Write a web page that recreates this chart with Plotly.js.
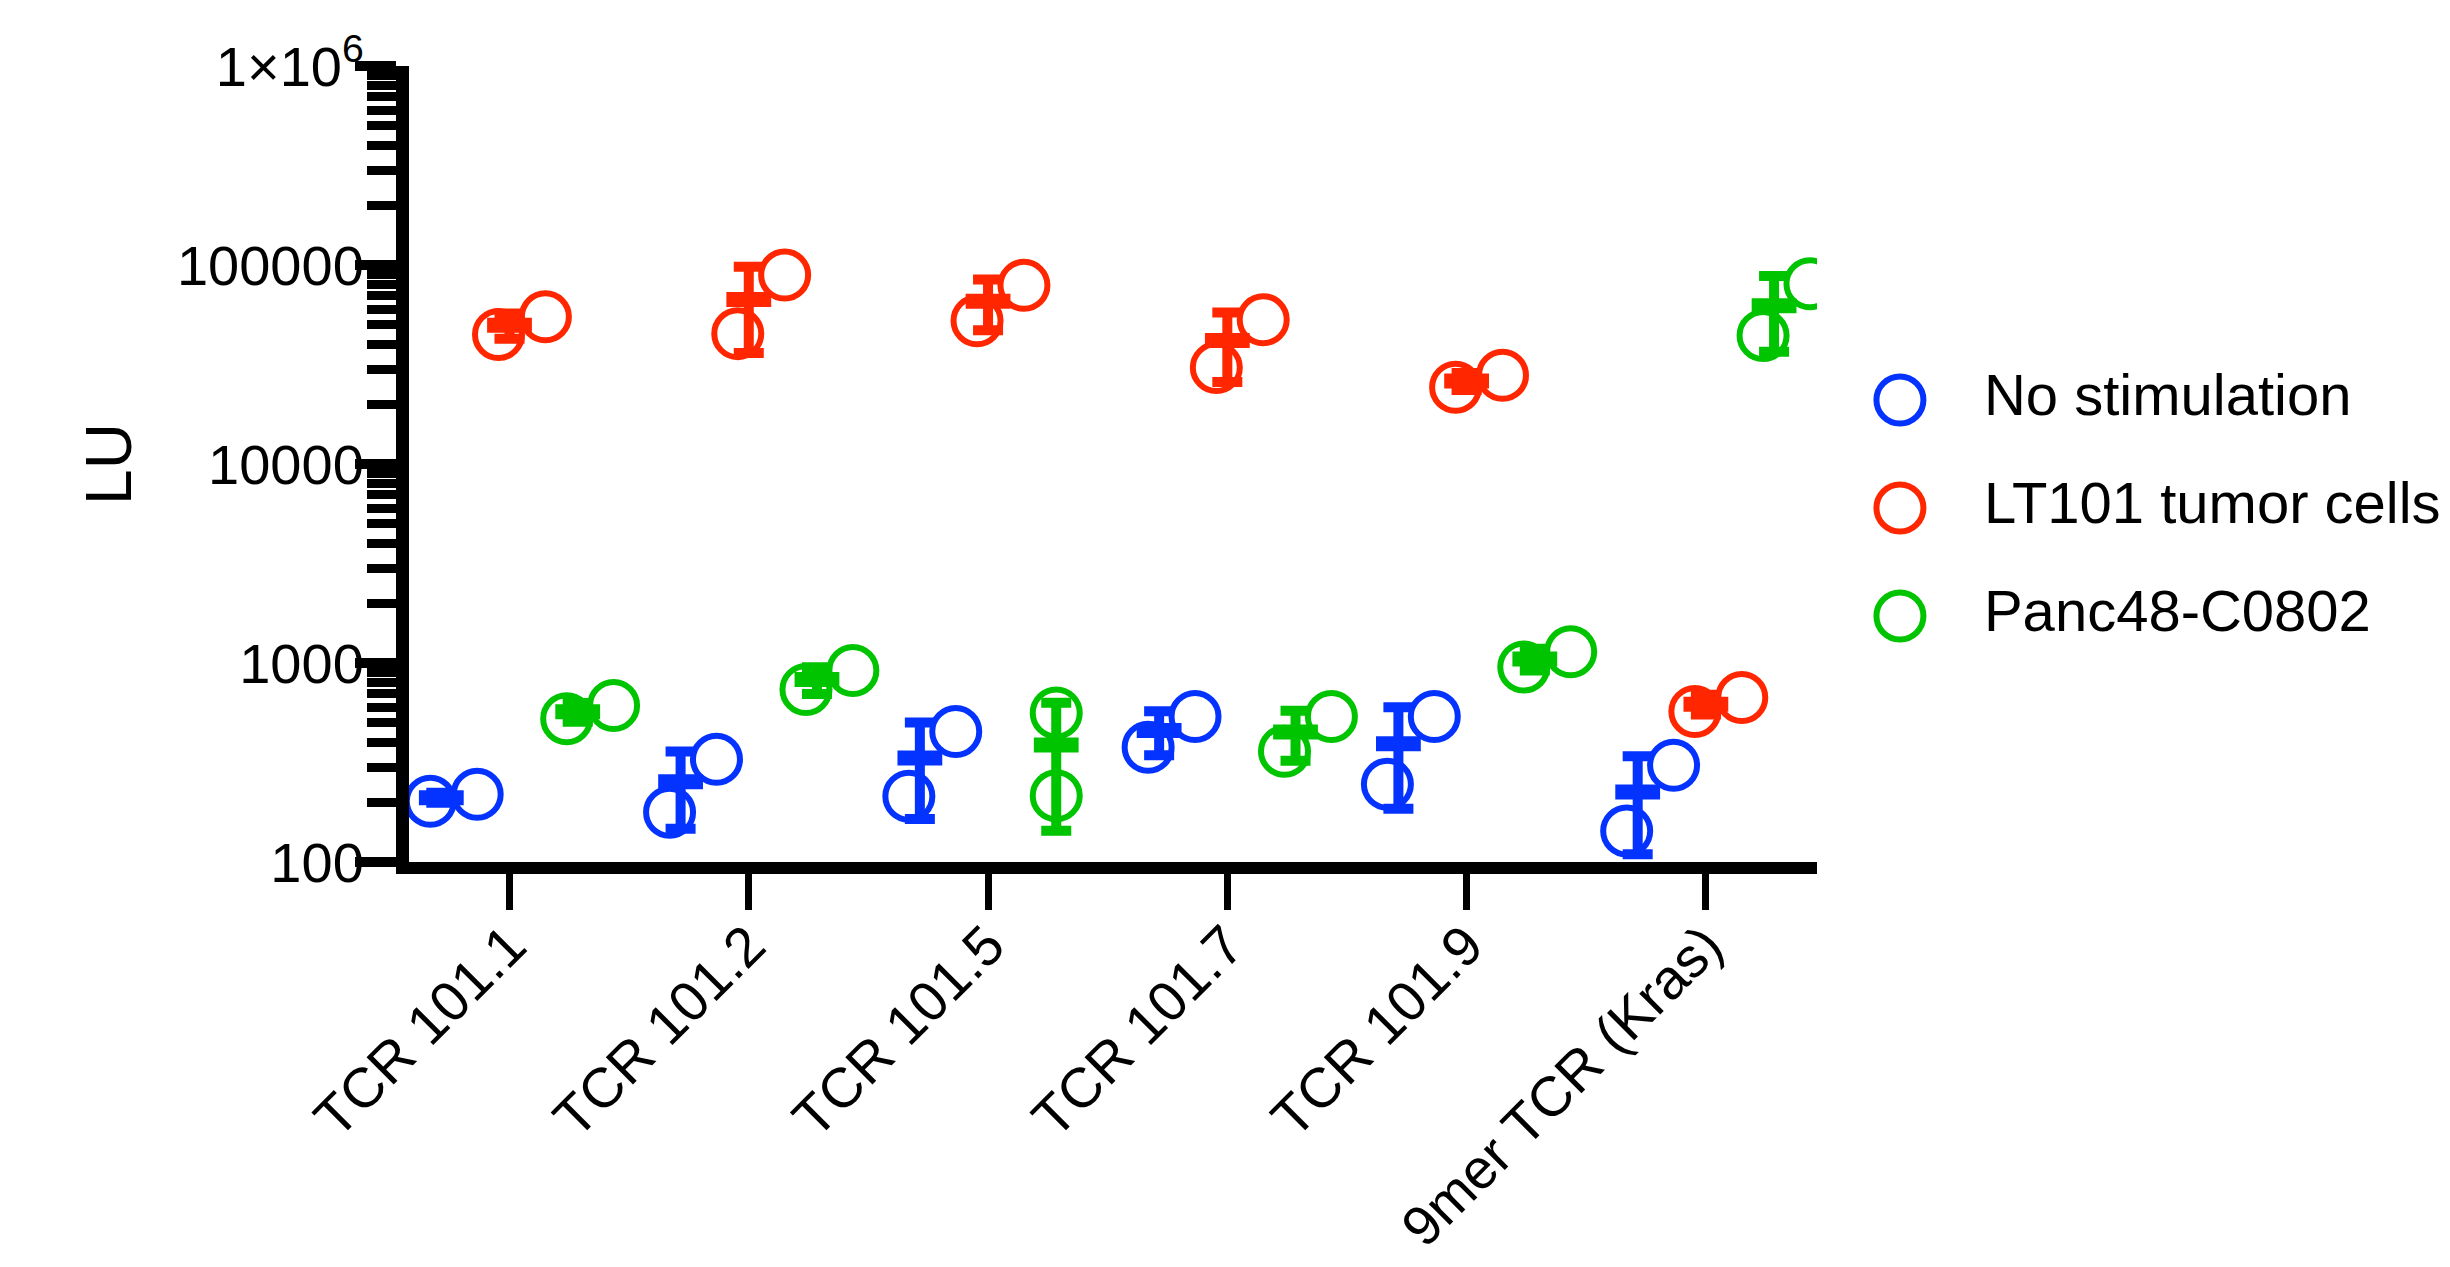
<!DOCTYPE html>
<html><head><meta charset="utf-8">
<script src="https://cdn.plot.ly/plotly-3.0.1.min.js"></script>
<style>html,body{margin:0;padding:0;background:#fff}#chart{width:2450px;height:1267px}</style>
</head><body><div id="chart"></div>
<script>
// ---- data ----
const categories = ['TCR 101.1','TCR 101.2','TCR 101.5','TCR 101.7','TCR 101.9','9mer TCR (Kras)'];
const seriesNames = ['No stimulation','LT101 tumor cells','Panc48-C0802'];
const noStimRep1 = [202, 178, 214, 377, 246, 143];
const noStimRep2 = [219, 328, 453, 539, 539, 306];
const lt101Rep1  = [44700, 45200, 52500, 30500, 24300, 571];
const lt101Rep2  = [55000, 89000, 79000, 53100, 27900, 671];
const panc48Rep1 = [525, 736, 215, 360, 955, 44200];
const panc48Rep2 = [612, 916, 560, 539, 1140, 80500];
const yTickVals = [100, 1000, 10000, 100000, 1000000];
const yTickText = ['100', '1000', '10000', '100000', '1×10<sup>6</sup>'];

// ---- styles ----
const FONT = 'Liberation Sans, Arial, Helvetica, sans-serif';
const colors = ['#0433FF', '#FF2600', '#00C400'];
const groupOffset = [-0.285, 0, 0.285];
const ptLeft = -0.046, ptRight = 0.15, spreadThreshold = 0.38;
const MS = 47, MLW = 6;

const reps = [[noStimRep1, noStimRep2], [lt101Rep1, lt101Rep2], [panc48Rep1, panc48Rep2]];
const traces = [];
reps.forEach(([r1, r2], s) => {
  const px = [], py = [], mx = [], my = [], sd = [];
  categories.forEach((c, i) => {
    const lo = Math.min(r1[i], r2[i]), hi = Math.max(r1[i], r2[i]);
    const cx = i + groupOffset[s];
    const spread = Math.abs(Math.log10(hi / lo)) < spreadThreshold;
    px.push(spread ? cx + ptLeft : cx, spread ? cx + ptRight : cx);
    py.push(lo, hi);
    const m = (r1[i] + r2[i]) / 2;
    const v = ((r1[i] - m) ** 2 + (r2[i] - m) ** 2) / 1; // sample variance, n-1 = 1
    mx.push(cx); my.push(m); sd.push(Math.sqrt(v));
  });
  traces.push({
    type: 'scatter', mode: 'markers', x: px, y: py, name: seriesNames[s],
    marker: {symbol: 'circle-open', size: MS, color: colors[s], line: {width: MLW, color: colors[s]}},
    hoverinfo: 'skip'
  });
  traces.push({
    type: 'scatter', mode: 'markers', x: mx, y: my, name: seriesNames[s] + ' mean',
    marker: {symbol: 'line-ew', size: 32, color: colors[s], line: {width: 15, color: colors[s]}},
    error_y: {type: 'data', array: sd, visible: true, color: colors[s], thickness: 10, width: 15},
    hoverinfo: 'skip'
  });
});

// legend drawn in its own invisible subplot (pixel-like coordinates)
const legendY = [400, 508, 616];
traces.push({
  type: 'scatter', mode: 'markers', xaxis: 'x2', yaxis: 'y2',
  x: seriesNames.map(() => 1900), y: legendY,
  marker: {symbol: 'circle-open', size: MS, color: colors, line: {width: MLW, color: colors}},
  hoverinfo: 'skip', cliponaxis: false
});
traces.push({
  type: 'scatter', mode: 'text', xaxis: 'x2', yaxis: 'y2',
  x: seriesNames.map(() => 1984), y: legendY, text: seriesNames,
  textposition: 'middle right', cliponaxis: false,
  textfont: {family: FONT, size: 58, color: '#000'},
  hoverinfo: 'skip'
});

const minorVals = [];
for (let d = 2; d < 6; d++) for (let k = 2; k <= 9; k++) minorVals.push(k * Math.pow(10, d));

const layout = {
  width: 2450, height: 1267,
  margin: {l: 409, r: 40, t: 66, b: 405},
  paper_bgcolor: '#fff', plot_bgcolor: '#fff',
  showlegend: false,
  font: {family: FONT, color: '#000'},
  xaxis: {
    domain: [0, 0.7036], range: [-0.42, 5.464],
    tickmode: 'array', tickvals: categories.map((c, i) => i), ticktext: categories,
    ticks: 'outside', ticklen: 36, tickwidth: 7, tickcolor: '#000',
    showline: true, linewidth: 12, linecolor: '#000',
    showgrid: false, zeroline: false, tickangle: -45, ticklabelstandoff: -20,
    tickfont: {family: FONT, size: 56, color: '#000'}
  },
  yaxis: {
    type: 'log', range: [2, 6],
    tickmode: 'array', tickvals: yTickVals, ticktext: yTickText,
    ticks: 'outside', ticklen: 41, tickwidth: 10, tickcolor: '#000',
    showline: true, linewidth: 13, linecolor: '#000',
    showgrid: false, zeroline: false, ticklabelstandoff: -20,
    minor: {tickmode: 'array', tickvals: minorVals, ticks: 'outside', ticklen: 29, tickwidth: 9, tickcolor: '#000', showgrid: false},
    tickfont: {family: FONT, size: 56, color: '#000'},
    title: {text: 'LU', font: {family: FONT, size: 64, color: '#000'}, standoff: 30}
  },
  xaxis2: {domain: [0.7201, 1], range: [1850, 2410], visible: false, anchor: 'y2', fixedrange: true},
  yaxis2: {domain: [0, 1], range: [862, 66], visible: false, anchor: 'x2', fixedrange: true}
};

Plotly.newPlot('chart', traces, layout, {displayModeBar: false, staticPlot: true});
</script>
</body></html>
